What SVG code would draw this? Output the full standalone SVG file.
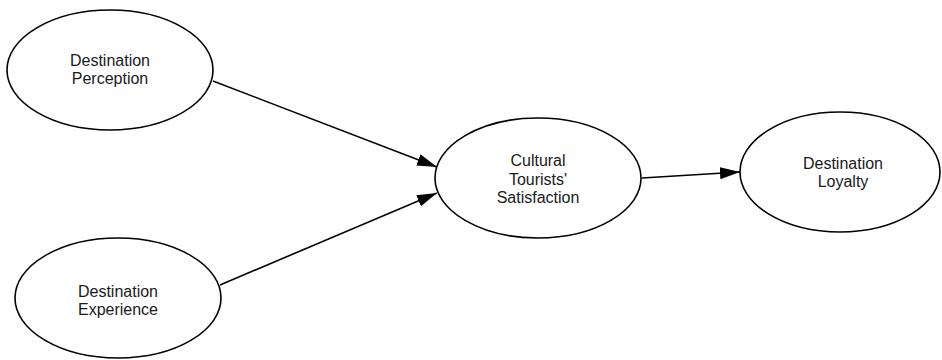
<svg xmlns="http://www.w3.org/2000/svg" width="942" height="360" viewBox="0 0 942 360">
<style>
.node ellipse{fill:#fff;stroke:#000;stroke-width:1.6}
.node text{font-family:"Liberation Sans",Arial,sans-serif;font-size:16px;fill:#1a1a1a;text-anchor:middle}
.edge{stroke:#000;stroke-width:1.6;fill:none;marker-end:url(#arr)}
</style>
<defs>
<marker id="arr" viewBox="0 0 20 12" refX="20" refY="6" markerWidth="20" markerHeight="12" markerUnits="userSpaceOnUse" orient="auto">
<path d="M0,0 L20,6 L0,12 Z" fill="#000"/>
</marker>
</defs>
<rect width="942" height="360" fill="#fff"/>
<g id="connectors">
<line class="edge" x1="213" y1="81" x2="437" y2="167"/>
<line class="edge" x1="220" y1="285" x2="437" y2="193"/>
<line class="edge" x1="642" y1="178" x2="740" y2="172"/>
</g>
<g id="perception" class="node">
<ellipse cx="110" cy="70" rx="103" ry="60"/>
<text x="110" y="66">Destination</text>
<text x="110" y="84">Perception</text>
</g>
<g id="experience" class="node">
<ellipse cx="118" cy="298" rx="103" ry="60"/>
<text x="118" y="297">Destination</text>
<text x="118" y="315">Experience</text>
</g>
<g id="satisfaction" class="node">
<ellipse cx="538" cy="178" rx="103" ry="60"/>
<text x="538" y="166">Cultural</text>
<text x="538" y="185">Tourists'</text>
<text x="538" y="203">Satisfaction</text>
</g>
<g id="loyalty" class="node">
<ellipse cx="840" cy="172" rx="100" ry="60"/>
<text x="843" y="169">Destination</text>
<text x="843" y="187">Loyalty</text>
</g>
</svg>
